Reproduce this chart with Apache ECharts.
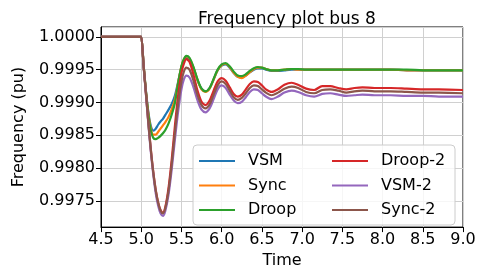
<!DOCTYPE html>
<html>
<head>
<meta charset="utf-8">
<script src="https://cdn.jsdelivr.net/npm/echarts@6/dist/echarts.min.js"></script>
<style>
  html, body { margin: 0; padding: 0; background: #fff; }
  #chart { width: 479px; height: 274px; }
</style>
</head>
<body>
<div id="chart"></div>
<script>
// time samples (s)
const time = [4.5, 4.99, 5.0, 5.03, 5.06, 5.09, 5.12, 5.15, 5.18, 5.21, 5.24, 5.27, 5.30, 5.34, 5.38, 5.42, 5.46, 5.50, 5.53, 5.56,
  5.60, 5.65, 5.70, 5.75, 5.80, 5.85, 5.90, 5.95, 6.00, 6.05, 6.10, 6.15, 6.20, 6.25, 6.30, 6.35, 6.40, 6.45, 6.50, 6.55,
  6.62, 6.70, 6.78, 6.87, 6.95, 7.05, 7.15, 7.25, 7.35, 7.45, 7.55, 7.65, 7.75, 7.9, 8.1, 8.3, 8.5, 8.7, 9.0];

const vsm = [1.0, 1.0, 1.0, 0.99956, 0.99916, 0.99884, 0.99864, 0.99857, 0.99860, 0.99866, 0.99871, 0.99875, 0.99881, 0.99889, 0.99898, 0.99911, 0.99932, 0.99954, 0.99964, 0.99968,
  0.99965, 0.99952, 0.99934, 0.99921, 0.99917, 0.99922, 0.99935, 0.99949, 0.99956, 0.99958, 0.99953, 0.99945, 0.99939, 0.99938, 0.99941, 0.99946, 0.99950, 0.99952, 0.99952, 0.99950,
  0.99948, 0.99948, 0.99949, 0.99950, 0.99950, 0.99950, 0.99950, 0.99950, 0.99950, 0.99950, 0.99950, 0.99950, 0.99950, 0.99950, 0.99950, 0.99949, 0.99949, 0.99949, 0.99949];

const sync = [1.0, 1.0, 1.0, 0.99956, 0.99915, 0.99882, 0.99860, 0.99851, 0.99851, 0.99855, 0.99860, 0.99865, 0.99870, 0.99878, 0.99890, 0.99905, 0.99931, 0.99955, 0.99966, 0.99970,
  0.99967, 0.99953, 0.99934, 0.99920, 0.99916, 0.99921, 0.99935, 0.99949, 0.99957, 0.99959, 0.99954, 0.99945, 0.99939, 0.99937, 0.99941, 0.99946, 0.99951, 0.99953, 0.99953, 0.99951,
  0.99949, 0.99949, 0.99950, 0.99951, 0.99950, 0.99950, 0.99950, 0.99950, 0.99950, 0.99950, 0.99950, 0.99950, 0.99950, 0.99950, 0.99950, 0.99949, 0.99949, 0.99949, 0.99949];

const droop = [1.0, 1.0, 1.0, 0.99956, 0.99915, 0.99880, 0.99857, 0.99846, 0.99844, 0.99846, 0.99849, 0.99853, 0.99858, 0.99868, 0.99882, 0.99900, 0.99930, 0.99955, 0.99966, 0.99971,
  0.99968, 0.99954, 0.99935, 0.99921, 0.99917, 0.99922, 0.99936, 0.99950, 0.99958, 0.99960, 0.99955, 0.99947, 0.99941, 0.99940, 0.99943, 0.99948, 0.99952, 0.99954, 0.99953, 0.99951,
  0.99949, 0.99949, 0.99950, 0.99951, 0.99951, 0.99950, 0.99950, 0.99950, 0.99950, 0.99950, 0.99950, 0.99950, 0.99950, 0.99950, 0.99950, 0.99950, 0.99949, 0.99949, 0.99949];

const droop2 = [1.0, 1.0, 1.0, 0.99955, 0.99912, 0.99868, 0.99828, 0.99794, 0.99767, 0.99748, 0.99736, 0.99732, 0.99741, 0.99770, 0.99814, 0.99866, 0.99912, 0.99945, 0.99959, 0.99966,
  0.99962, 0.99942, 0.99918, 0.99901, 0.99896, 0.99903, 0.99918, 0.99932, 0.99937, 0.99933, 0.99923, 0.99913, 0.99909, 0.99912, 0.99920, 0.99928, 0.99932, 0.99931, 0.99926, 0.99920,
  0.99916, 0.99920, 0.99927, 0.99930, 0.99927, 0.99921, 0.99919, 0.99925, 0.99925, 0.99922, 0.99920, 0.99922, 0.99923, 0.99922, 0.99922, 0.99921, 0.99920, 0.99920, 0.99919];

const vsm2 = [1.0, 1.0, 1.0, 0.99954, 0.99910, 0.99865, 0.99824, 0.99790, 0.99762, 0.99743, 0.99731, 0.99727, 0.99735, 0.99760, 0.99799, 0.99845, 0.99887, 0.99920, 0.99935, 0.99941,
  0.99938, 0.99923, 0.99903, 0.99889, 0.99885, 0.99891, 0.99905, 0.99920, 0.99926, 0.99922, 0.99912, 0.99903, 0.99899, 0.99901, 0.99908, 0.99916, 0.99920, 0.99919, 0.99914, 0.99909,
  0.99905, 0.99909, 0.99915, 0.99918, 0.99916, 0.99911, 0.99909, 0.99913, 0.99914, 0.99912, 0.99910, 0.99911, 0.99912, 0.99911, 0.99911, 0.99910, 0.99910, 0.99909, 0.99909];

const sync2 = [1.0, 1.0, 1.0, 0.99955, 0.99912, 0.99867, 0.99827, 0.99793, 0.99766, 0.99747, 0.99735, 0.99731, 0.99739, 0.99766, 0.99807, 0.99856, 0.99899, 0.99932, 0.99947, 0.99953,
  0.99950, 0.99933, 0.99911, 0.99896, 0.99891, 0.99897, 0.99912, 0.99926, 0.99932, 0.99928, 0.99918, 0.99908, 0.99904, 0.99907, 0.99914, 0.99922, 0.99926, 0.99925, 0.99920, 0.99915,
  0.99911, 0.99915, 0.99921, 0.99924, 0.99922, 0.99916, 0.99914, 0.99919, 0.99920, 0.99918, 0.99915, 0.99917, 0.99918, 0.99917, 0.99917, 0.99916, 0.99915, 0.99915, 0.99914];

const names = ['VSM', 'Sync', 'Droop', 'Droop-2', 'VSM-2', 'Sync-2'];
const values = [vsm, sync, droop, droop2, vsm2, sync2];
const colors = ['#1f77b4', '#ff7f0e', '#2ca02c', '#d62728', '#9467bd', '#8c564b'];

const font = 'DejaVu Sans';
const chart = echarts.init(document.getElementById('chart'), null, { renderer: 'canvas' });

const legendBase = {
  orient: 'vertical',
  top: 153,
  padding: 0,
  itemWidth: 36,
  itemHeight: 2,
  itemGap: 8.5,
  icon: 'rect',
  selectedMode: false,
  z: 20,
  textStyle: { fontFamily: font, fontSize: 16, color: '#000', lineHeight: 16, padding: [0, 0, 0, 8] }
};

chart.setOption({
  animation: false,
  color: colors,
  title: {
    text: 'Frequency plot bus 8',
    left: 282,
    top: 6,
    textAlign: 'center',
    textStyle: { fontFamily: font, fontSize: 17, fontWeight: 'normal', color: '#000' }
  },
  grid: { left: 101, right: 16, top: 27, bottom: 41, show: true, borderColor: '#000', borderWidth: 1 },
  xAxis: {
    type: 'value',
    min: 4.5,
    max: 9.0,
    interval: 0.5,
    name: 'Time',
    nameLocation: 'middle',
    nameGap: 23,
    nameTextStyle: { fontFamily: font, fontSize: 16, color: '#000' },
    axisLine: { onZero: false, lineStyle: { color: '#000' } },
    axisTick: { show: true, length: 5, lineStyle: { color: '#000' } },
    axisLabel: { fontFamily: font, fontSize: 16, color: '#000', margin: 5, formatter: v => v.toFixed(1) },
    splitLine: { show: true, lineStyle: { color: '#d0d0d0', width: 1 } }
  },
  yAxis: {
    type: 'value',
    min: 0.9971,
    max: 1.00015,
    splitNumber: 6,
    name: 'Frequency (pu)',
    nameLocation: 'middle',
    nameGap: 74,
    nameTextStyle: { fontFamily: font, fontSize: 16, color: '#000' },
    axisLine: { show: true, lineStyle: { color: '#000' } },
    axisTick: { show: true, length: 5, lineStyle: { color: '#000' } },
    axisLabel: { fontFamily: font, fontSize: 16, color: '#000', margin: 6, showMinLabel: false, showMaxLabel: false,
      formatter: v => v.toFixed(4) },
    splitLine: { show: true, lineStyle: { color: '#d0d0d0', width: 1 } }
  },
  legend: [
    Object.assign({}, legendBase, { left: 199, data: names.slice(0, 3) }),
    Object.assign({}, legendBase, { left: 332, data: names.slice(3) })
  ],
  graphic: [{
    type: 'rect',
    z: 10,
    shape: { x: 193, y: 145, width: 262, height: 80, r: 4 },
    style: { fill: 'rgba(255,255,255,0.8)', stroke: '#cccccc', lineWidth: 1 }
  }],
  series: names.map((n, i) => ({
    name: n,
    type: 'line',
    data: time.map((t, j) => [t, values[i][j]]),
    showSymbol: false,
    smooth: 0.3,
    lineStyle: { width: 2.2, color: colors[i] },
    itemStyle: { color: colors[i] }
  }))
});
</script>
</body>
</html>
